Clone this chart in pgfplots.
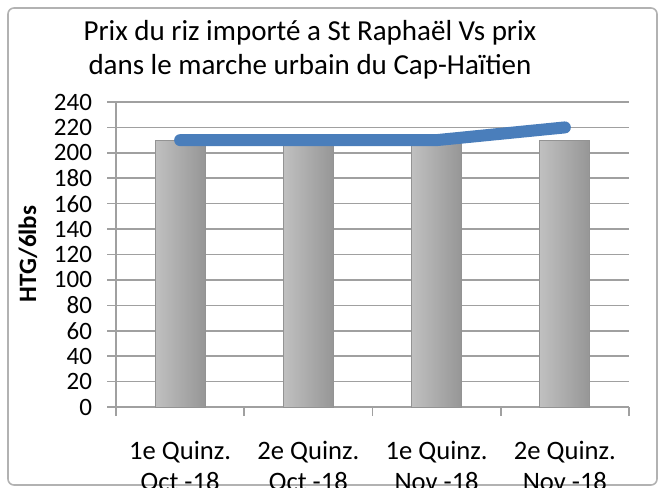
\documentclass[border=0pt]{standalone}
\usepackage{pgfplots}
\pgfplotsset{compat=1.18}
\usepackage{fontspec}
\setmainfont{Carlito}
\definecolor{lineblue}{RGB}{74,126,187}
\definecolor{gridgray}{RGB}{160,160,160}
\definecolor{barleft}{RGB}{192,192,192}
\definecolor{barmid}{RGB}{178,178,178}
\definecolor{barright}{RGB}{150,150,150}
\tikzset{barstyle/.style={ybar, bar width=25pt, draw=gray!85, line width=0.4pt,
     left color=barleft, middle color=barmid, right color=barright}}
\begin{document}
\begin{tikzpicture}
\useasboundingbox (0,0) rectangle (331pt,243.5pt);
\draw[gray!60, line width=0.8pt, rounded corners=3pt] (4pt,1pt) rectangle (328.5pt,239.5pt);
\node[align=center, font=\fontsize{14.5}{17}\selectfont] at (155pt,218.5pt)
  {Prix du riz importé a St Raphaël Vs prix\\dans le marche urbain du Cap-Haïtien};
\node[rotate=90, font=\fontsize{12.5}{14}\selectfont\bfseries] at (14pt,116.5pt) {HTG/6lbs};
\begin{axis}[
  at={(58pt,40pt)}, anchor=south west,
  scale only axis, width=256.5pt, height=152.5pt,
  xmin=-0.5, xmax=3.5, ymin=0, ymax=240,
  ytick={0,20,...,240},
  xtick={-0.5,0.5,1.5,2.5,3.5},
  x tick label as interval,
  xticklabels={{1e Quinz.\\Oct -18},{2e Quinz.\\Oct -18},{1e Quinz.\\Nov -18},{2e Quinz.\\Nov -18}},
  xticklabel style={align=center, font=\fontsize{13.3}{15.5}\selectfont, yshift=-9pt},
  yticklabel style={font=\fontsize{12.5}{14}\selectfont, xshift=-4pt},
  /pgf/number format/assume math mode=true,
  axis x line*=bottom, axis y line*=left,
  axis line style={gridgray, line width=0.8pt, -},
  tick style={gridgray, line width=0.8pt},
  tick align=outside, major tick length=4.5pt,
  ymajorgrids, grid style={gridgray, line width=0.8pt},
  clip=false,
]
\addplot[barstyle] coordinates {(0,210)};
\addplot[barstyle] coordinates {(1,210)};
\addplot[barstyle] coordinates {(2,210)};
\addplot[barstyle] coordinates {(3,210)};
\addplot[sharp plot, draw=lineblue, line width=6pt, line cap=round, line join=round, no marks]
  coordinates {(0,210)(1,210)(2,210)(3,220)};
\end{axis}
\end{tikzpicture}
\end{document}
